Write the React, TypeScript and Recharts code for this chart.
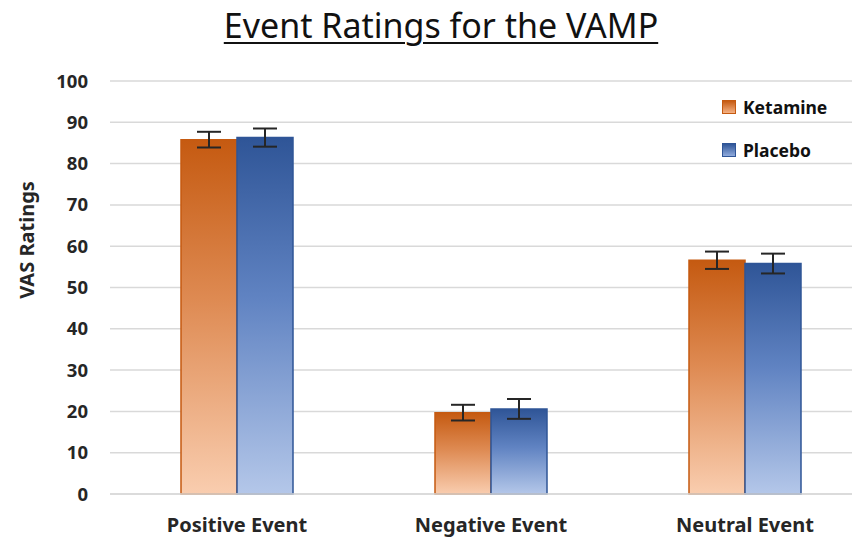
import React from 'react';
import { BarChart, Bar, XAxis, YAxis, CartesianGrid, ErrorBar } from 'recharts';

const categories = ['Positive Event', 'Negative Event', 'Neutral Event'];
const ketamine = [85.8, 19.7, 56.6];
const placebo = [86.3, 20.6, 55.8];
const ketamineErr = [1.9, 1.9, 2.1];
const placeboErr = [2.2, 2.4, 2.4];
const yTicks = [0, 10, 20, 30, 40, 50, 60, 70, 80, 90, 100];
const seriesNames = ['Ketamine', 'Placebo'];

const data = categories.map((c, i) => ({
  name: c,
  ketamine: ketamine[i],
  placebo: placebo[i],
  ketamineErr: ketamineErr[i],
  placeboErr: placeboErr[i],
}));

const FONT = '"Noto Sans", "Open Sans", sans-serif';
const TEXT = '#262626';

const legendFill = [
  'linear-gradient(#C55A11, #F4B183)',
  'linear-gradient(#2F5597, #8FAADC)',
];
const legendBorder = ['#C55A11', '#2F5597'];

const LegendBox = () => (
  <div
    style={{
      position: 'absolute',
      top: 77,
      left: 714,
      fontFamily: FONT,
      fontWeight: 700,
      fontSize: 17.5,
      color: '#111',
      zIndex: 2,
    }}
  >
    {seriesNames.map((n, i) => (
      <div key={n} style={{ display: 'flex', alignItems: 'center', height: 43 }}>
        <span
          style={{
            display: 'inline-block',
            width: 12,
            height: 12,
            background: legendFill[i],
            border: `1px solid ${legendBorder[i]}`,
            marginRight: 7,
          }}
        />
        <span>{n}</span>
      </div>
    ))}
  </div>
);

const YLabel = () => {
  const cx = 18;
  const cy = 232;
  return (
    <text
      x={cx}
      y={cy}
      transform={`rotate(-90 ${cx} ${cy})`}
      textAnchor="middle"
      dominantBaseline="central"
      fontFamily={FONT}
      fontWeight={700}
      fontSize={20}
      fill={TEXT}
    >
      VAS Ratings
    </text>
  );
};

export default function App() {
  return (
    <div style={{ position: 'relative', width: 852, height: 533, background: '#fff' }}>
      <div style={{ position: 'absolute', top: 0, left: 0, width: 852, height: 533, overflow: 'hidden' }}>
        <BarChart
          width={870}
          height={533}
          data={data}
          margin={{ top: 73, right: 6, bottom: 0, left: 0 }}
          barGap={0}
          barSize={56}
        >
          <defs>
            <linearGradient id="gradK" x1="0" y1="0" x2="0" y2="1">
              <stop offset="0%" stopColor="#C55A11" />
              <stop offset="45%" stopColor="#DE8A52" />
              <stop offset="100%" stopColor="#F9CDAF" />
            </linearGradient>
            <linearGradient id="gradP" x1="0" y1="0" x2="0" y2="1">
              <stop offset="0%" stopColor="#2F5597" />
              <stop offset="45%" stopColor="#6083C2" />
              <stop offset="100%" stopColor="#B4C7E9" />
            </linearGradient>
          </defs>
          <CartesianGrid vertical={false} stroke="#D9D9D9" strokeWidth={1.5} />
          <XAxis
            dataKey="name"
            axisLine={{ stroke: '#D9D9D9', strokeWidth: 1.5 }}
            tickLine={false}
            tickSize={0}
            tickMargin={24}
            height={47}
            tick={{ fontFamily: FONT, fontWeight: 700, fontSize: 20, fill: TEXT }}
            interval={0}
          />
          <YAxis
            domain={[0, 100]}
            ticks={yTicks}
            width={102}
            axisLine={false}
            tickLine={false}
            tickSize={0}
            tickMargin={22}
            tick={{ fontFamily: FONT, fontWeight: 700, fontSize: 18.5, fill: TEXT }}
            label={<YLabel />}
          />
          <Bar dataKey="ketamine" name="Ketamine" fill="url(#gradK)" stroke="#C55A11" strokeWidth={1.5} isAnimationActive={false}>
            <ErrorBar dataKey="ketamineErr" width={12} stroke="#262626" strokeWidth={2} />
          </Bar>
          <Bar dataKey="placebo" name="Placebo" fill="url(#gradP)" stroke="#2F5597" strokeWidth={1.5} isAnimationActive={false}>
            <ErrorBar dataKey="placeboErr" width={12} stroke="#262626" strokeWidth={2} />
          </Bar>
        </BarChart>
      </div>
      <div
        style={{
          position: 'absolute',
          top: -6,
          left: 0,
          width: 852,
          boxSizing: 'border-box',
          paddingLeft: 14,
          textAlign: 'center',
          fontFamily: FONT,
          fontSize: 34,
          color: '#111',
          textDecoration: 'underline',
          textDecorationThickness: 2,
          textUnderlineOffset: 4,
          zIndex: 2,
        }}
      >
        Event Ratings for the VAMP
      </div>
      <LegendBox />
    </div>
  );
}
